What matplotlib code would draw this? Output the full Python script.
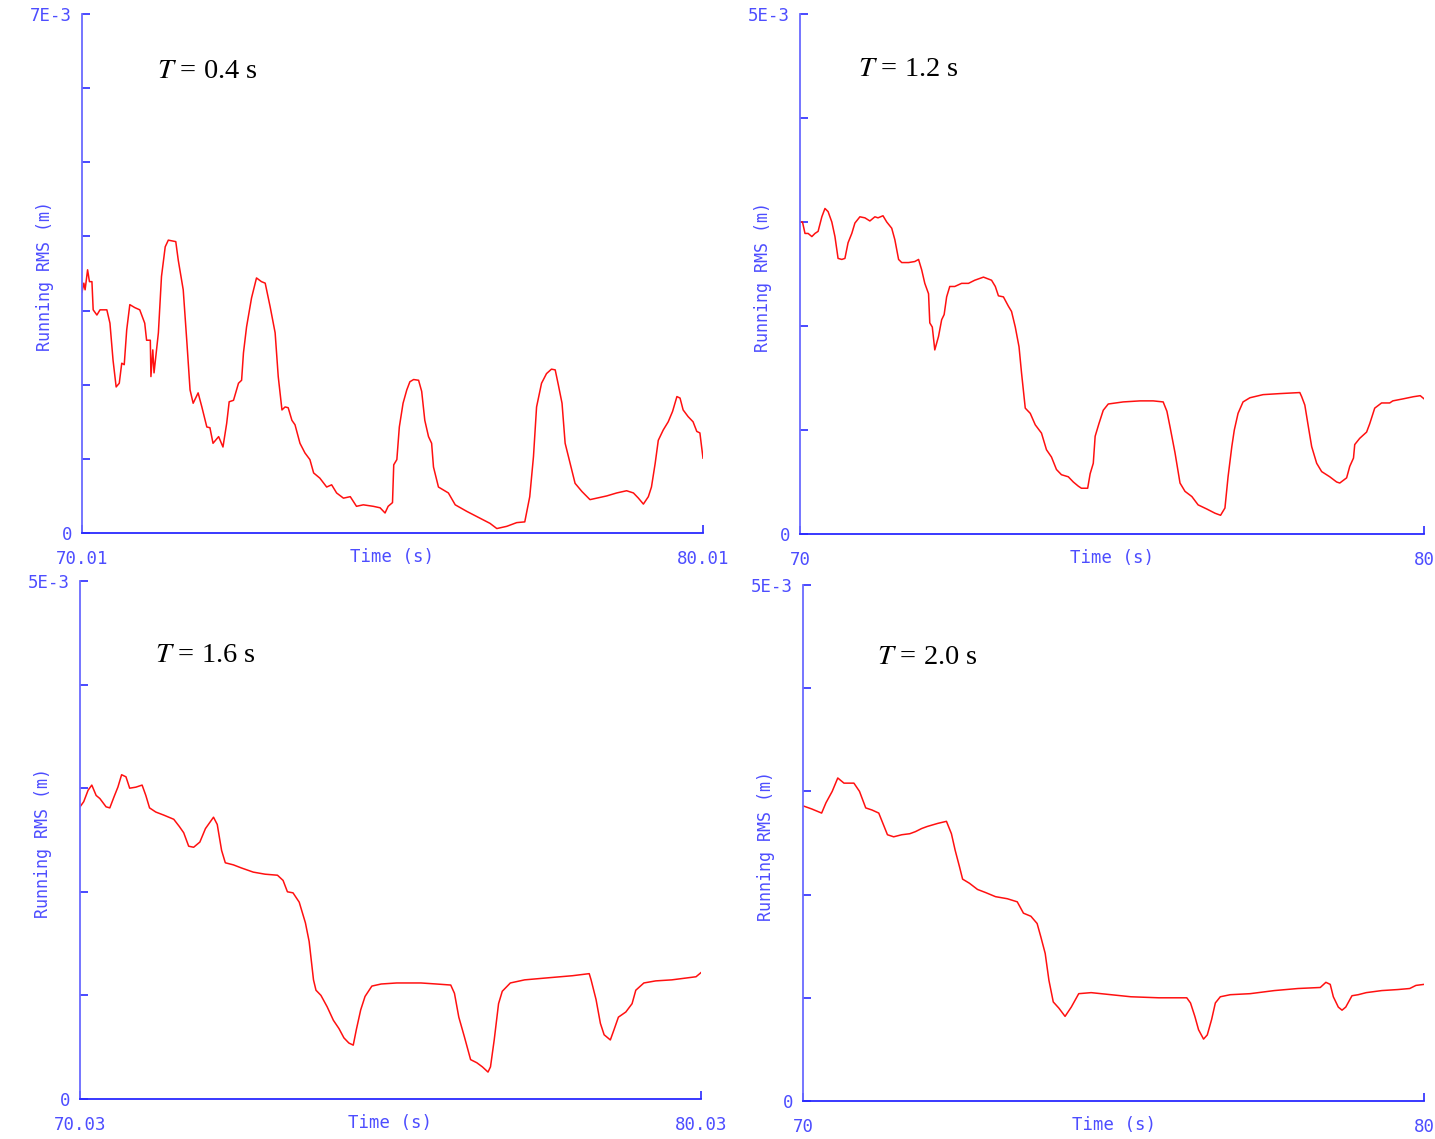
import matplotlib
matplotlib.use("Agg")
import matplotlib.pyplot as plt
import numpy as np

plt.rcParams['mathtext.fontset'] = 'stix'

# ---------------- data (RMS in units of 1E-3 m) ----------------
t1 = [70.01, 70.04, 70.06, 70.10, 70.13, 70.17, 70.19, 70.25, 70.30, 70.41, 70.46, 70.51, 70.56, 70.61,
      70.65, 70.69, 70.73, 70.78, 70.86, 70.94, 71.02, 71.05, 71.11, 71.12, 71.15, 71.17, 71.24, 71.29,
      71.35, 71.40, 71.52, 71.56, 71.64, 71.70, 71.75, 71.80, 71.88, 71.94, 72.02, 72.07, 72.12, 72.21,
      72.28, 72.34, 72.38, 72.45, 72.53, 72.58, 72.61, 72.66, 72.74, 72.82, 72.90, 72.96, 73.04, 73.12,
      73.17, 73.23, 73.28, 73.33, 73.39, 73.44, 73.52, 73.60, 73.68, 73.74, 73.84, 73.95, 74.03, 74.11,
      74.22, 74.33, 74.43, 74.54, 74.70, 74.81, 74.89, 74.94, 75.01, 75.03, 75.08, 75.12, 75.18, 75.24,
      75.29, 75.35, 75.43, 75.48, 75.53, 75.59, 75.64, 75.67, 75.75, 75.83, 75.91, 76.02, 76.21, 76.42,
      76.58, 76.69, 76.85, 77.01, 77.14, 77.22, 77.28, 77.33, 77.41, 77.49, 77.57, 77.63, 77.68, 77.74,
      77.79, 77.87, 77.95, 78.06, 78.19, 78.30, 78.46, 78.62, 78.78, 78.89, 78.97, 79.05, 79.13, 79.18,
      79.24, 79.29, 79.37, 79.45, 79.52, 79.59, 79.64, 79.69, 79.77, 79.85, 79.91, 79.96, 80.01]
rms1 = [3.25, 3.37, 3.28, 3.55, 3.39, 3.39, 3.01, 2.94, 3.01, 3.01, 2.83, 2.33, 1.97, 2.02,
        2.29, 2.27, 2.74, 3.08, 3.04, 3.01, 2.83, 2.60, 2.60, 2.11, 2.47, 2.16, 2.70, 3.46,
        3.86, 3.95, 3.93, 3.68, 3.28, 2.56, 1.93, 1.75, 1.89, 1.70, 1.43, 1.42, 1.21, 1.30,
        1.16, 1.48, 1.77, 1.79, 2.02, 2.06, 2.43, 2.78, 3.17, 3.44, 3.39, 3.37, 3.05, 2.70,
        2.11, 1.66, 1.70, 1.69, 1.52, 1.46, 1.21, 1.08, 0.99, 0.81, 0.74, 0.62, 0.65, 0.54,
        0.47, 0.49, 0.36, 0.38, 0.36, 0.34, 0.27, 0.36, 0.41, 0.92, 0.99, 1.43, 1.75, 1.93,
        2.04, 2.07, 2.06, 1.91, 1.52, 1.30, 1.21, 0.89, 0.62, 0.58, 0.54, 0.38, 0.29, 0.20,
        0.13, 0.06, 0.09, 0.14, 0.15, 0.49, 1.03, 1.70, 2.02, 2.15, 2.21, 2.20, 2.00, 1.75,
        1.21, 0.94, 0.67, 0.56, 0.45, 0.47, 0.50, 0.54, 0.57, 0.54, 0.47, 0.39, 0.49, 0.62,
        0.94, 1.25, 1.39, 1.50, 1.64, 1.84, 1.82, 1.66, 1.57, 1.50, 1.37, 1.35, 1.01]

t2 = [70.00, 70.04, 70.08, 70.13, 70.19, 70.24, 70.29, 70.35, 70.40, 70.45, 70.51, 70.56, 70.61, 70.67,
      70.72, 70.77, 70.83, 70.88, 70.96, 71.04, 71.12, 71.20, 71.25, 71.33, 71.39, 71.47, 71.52, 71.58,
      71.63, 71.74, 71.84, 71.90, 71.95, 72.00, 72.06, 72.08, 72.12, 72.16, 72.22, 72.27, 72.31, 72.35,
      72.40, 72.48, 72.59, 72.70, 72.80, 72.94, 73.07, 73.13, 73.18, 73.26, 73.34, 73.39, 73.45, 73.51,
      73.55, 73.61, 73.69, 73.77, 73.87, 73.95, 74.03, 74.11, 74.19, 74.30, 74.38, 74.46, 74.51, 74.61,
      74.65, 74.70, 74.73, 74.79, 74.86, 74.94, 75.18, 75.45, 75.66, 75.82, 75.88, 75.93, 76.01, 76.09,
      76.17, 76.28, 76.38, 76.52, 76.65, 76.74, 76.81, 76.86, 76.92, 76.96, 77.02, 77.10, 77.21, 77.42,
      77.69, 78.01, 78.04, 78.09, 78.15, 78.20, 78.28, 78.36, 78.49, 78.60, 78.65, 78.76, 78.81, 78.87,
      78.89, 78.97, 79.08, 79.13, 79.21, 79.32, 79.45, 79.50, 79.67, 79.83, 79.94, 80.00]
rms2 = [3.00, 3.00, 2.89, 2.89, 2.86, 2.89, 2.91, 3.05, 3.13, 3.10, 3.00, 2.86, 2.65, 2.64,
        2.65, 2.80, 2.89, 2.99, 3.05, 3.04, 3.01, 3.05, 3.04, 3.06, 3.00, 2.94, 2.83, 2.64,
        2.61, 2.61, 2.62, 2.64, 2.54, 2.41, 2.31, 2.03, 1.99, 1.77, 1.90, 2.06, 2.11, 2.28,
        2.38, 2.38, 2.41, 2.41, 2.44, 2.47, 2.44, 2.38, 2.29, 2.28, 2.19, 2.14, 1.99, 1.80,
        1.55, 1.21, 1.16, 1.05, 0.97, 0.81, 0.74, 0.62, 0.57, 0.55, 0.50, 0.46, 0.44, 0.44,
        0.58, 0.68, 0.94, 1.06, 1.19, 1.25, 1.27, 1.28, 1.28, 1.27, 1.18, 1.03, 0.78, 0.49,
        0.41, 0.36, 0.28, 0.24, 0.20, 0.18, 0.25, 0.55, 0.84, 1.00, 1.16, 1.27, 1.31, 1.34,
        1.35, 1.36, 1.32, 1.24, 1.02, 0.84, 0.68, 0.60, 0.55, 0.50, 0.49, 0.54, 0.65, 0.73,
        0.86, 0.92, 0.98, 1.06, 1.21, 1.26, 1.26, 1.28, 1.30, 1.32, 1.33, 1.30]

t3 = [70.03, 70.09, 70.16, 70.22, 70.29, 70.35, 70.45, 70.51, 70.58, 70.64, 70.70, 70.77, 70.83, 70.93,
      71.03, 71.09, 71.15, 71.25, 71.38, 71.54, 71.63, 71.70, 71.78, 71.86, 71.96, 72.05, 72.18, 72.24,
      72.31, 72.37, 72.50, 72.63, 72.82, 73.01, 73.21, 73.30, 73.37, 73.46, 73.56, 73.66, 73.72, 73.79,
      73.83, 73.91, 74.01, 74.11, 74.20, 74.28, 74.36, 74.43, 74.48, 74.55, 74.62, 74.73, 74.88, 75.13,
      75.52, 75.77, 76.00, 76.06, 76.13, 76.22, 76.32, 76.42, 76.51, 76.60, 76.64, 76.70, 76.77, 76.83,
      76.96, 77.19, 77.57, 77.96, 78.23, 78.26, 78.34, 78.41, 78.47, 78.57, 78.63, 78.70, 78.82, 78.92,
      78.98, 79.11, 79.30, 79.56, 79.82, 79.95, 80.03]
rms3 = [2.82, 2.87, 2.98, 3.03, 2.93, 2.90, 2.82, 2.81, 2.92, 3.01, 3.13, 3.11, 3.00, 3.01,
        3.03, 2.93, 2.81, 2.77, 2.74, 2.70, 2.63, 2.57, 2.44, 2.43, 2.48, 2.61, 2.72, 2.65,
        2.40, 2.28, 2.26, 2.23, 2.19, 2.17, 2.16, 2.11, 2.00, 1.99, 1.90, 1.70, 1.52, 1.15,
        1.05, 1.00, 0.89, 0.76, 0.68, 0.59, 0.54, 0.52, 0.67, 0.86, 0.99, 1.09, 1.11, 1.12,
        1.12, 1.11, 1.10, 1.02, 0.79, 0.60, 0.38, 0.35, 0.31, 0.26, 0.31, 0.57, 0.92, 1.04,
        1.12, 1.15, 1.17, 1.19, 1.21, 1.15, 0.96, 0.73, 0.62, 0.57, 0.67, 0.79, 0.84, 0.92,
        1.05, 1.12, 1.14, 1.15, 1.17, 1.18, 1.22]

t4 = [70.00, 70.14, 70.30, 70.37, 70.47, 70.56, 70.66, 70.82, 70.91, 71.01, 71.11, 71.22, 71.30, 71.36,
      71.46, 71.59, 71.72, 71.81, 71.91, 72.00, 72.17, 72.31, 72.39, 72.45, 72.52, 72.57, 72.68, 72.81,
      72.94, 73.10, 73.29, 73.45, 73.55, 73.67, 73.77, 73.83, 73.90, 73.96, 74.03, 74.12, 74.22, 74.32,
      74.44, 74.64, 74.96, 75.28, 75.73, 76.18, 76.24, 76.31, 76.37, 76.45, 76.51, 76.58, 76.64, 76.72,
      76.88, 77.20, 77.59, 77.97, 78.33, 78.42, 78.49, 78.54, 78.62, 78.68, 78.74, 78.84, 78.94, 79.07,
      79.32, 79.58, 79.77, 79.87, 80.00]
rms4 = [2.86, 2.83, 2.79, 2.89, 3.00, 3.13, 3.08, 3.08, 3.00, 2.84, 2.82, 2.79, 2.67, 2.58,
        2.56, 2.58, 2.59, 2.61, 2.64, 2.66, 2.69, 2.71, 2.59, 2.43, 2.27, 2.15, 2.11, 2.05,
        2.02, 1.98, 1.96, 1.93, 1.82, 1.79, 1.72, 1.59, 1.43, 1.17, 0.96, 0.90, 0.82, 0.91,
        1.04, 1.05, 1.03, 1.01, 1.00, 1.00, 0.95, 0.82, 0.69, 0.60, 0.64, 0.79, 0.95, 1.01,
        1.03, 1.04, 1.07, 1.09, 1.10, 1.15, 1.13, 1.01, 0.91, 0.88, 0.91, 1.02, 1.03, 1.05,
        1.07, 1.08, 1.09, 1.12, 1.13]

titles = ["$T$ = 0.4 s", "$T$ = 1.2 s", "$T$ = 1.6 s", "$T$ = 2.0 s"]
x_ranges = [(70.01, 80.01), (70.0, 80.0), (70.03, 80.03), (70.0, 80.0)]
x_labels = [("70.01", "80.01"), ("70", "80"), ("70.03", "80.03"), ("70", "80")]
y_max = [7, 5, 5, 5]
y_top_labels = ["7E-3", "5E-3", "5E-3", "5E-3"]
series_t = [t1, t2, t3, t4]
series_v = [rms1, rms2, rms3, rms4]

# ---------------- layout ----------------
W, H = 1435, 1139
fig = plt.figure(figsize=(W / 100, H / 100), dpi=100)

# axes boxes in pixels: left, right, top, bottom
boxes = [(82, 703, 14, 533), (800, 1424, 14, 534), (80, 701, 581, 1099), (803, 1424, 585, 1101)]
title_pos = [(0.121, 0.890), (0.093, 0.894), (0.121, 0.857), (0.119, 0.859)]

axis_col = '#2a2aff'
text_col = '#4d4dff'
mono = 'DejaVu Sans Mono'

for i in range(4):
    l, r, tp, bt = boxes[i]
    ax = fig.add_axes([l / W, (H - bt) / H, (r - l) / W, (bt - tp) / H])
    x0, x1 = x_ranges[i]
    ax.plot(series_t[i], np.array(series_v[i]) * 1e-3, color='#ff1010', lw=1.1)
    ax.set_xlim(x0, x1)
    ym = y_max[i] * 1e-3
    ax.set_ylim(0, ym)
    for s in ['top', 'right']:
        ax.spines[s].set_visible(False)
    ax.spines['left'].set_color('#6a6aff')
    ax.spines['left'].set_linewidth(1.3)
    ax.spines['bottom'].set_color(axis_col)
    ax.spines['bottom'].set_linewidth(1.3)

    yt = [k * 1e-3 for k in range(y_max[i] + 1)]
    ax.set_yticks(yt)
    ax.set_yticklabels(['0'] + [''] * (y_max[i] - 1) + [y_top_labels[i]],
                       family=mono, fontsize=12.5, color=text_col)
    ax.set_xticks([x0, x1])
    ax.set_xticklabels(list(x_labels[i]), family=mono, fontsize=12.5, color=text_col)
    ax.tick_params(axis='y', direction='in', length=6, width=1.2, color=axis_col, pad=7)
    ax.tick_params(axis='x', direction='in', length=6, width=1.2, color=axis_col, pad=12)

    ax.set_xlabel('Time (s)', family=mono, fontsize=12.5, color=text_col, va='center')
    ax.xaxis.set_label_coords(0.5, -24 / (bt - tp))
    ax.set_ylabel('Running RMS (m)', family=mono, fontsize=12, color=text_col, va='center')
    ax.yaxis.set_label_coords(-37 / (r - l), 0.495)

    ax.text(title_pos[i][0], title_pos[i][1], titles[i], transform=ax.transAxes,
            family='Liberation Serif', fontsize=20.5, color='black', va='center', ha='left')

fig.savefig('out.png', dpi=100, facecolor='white')
